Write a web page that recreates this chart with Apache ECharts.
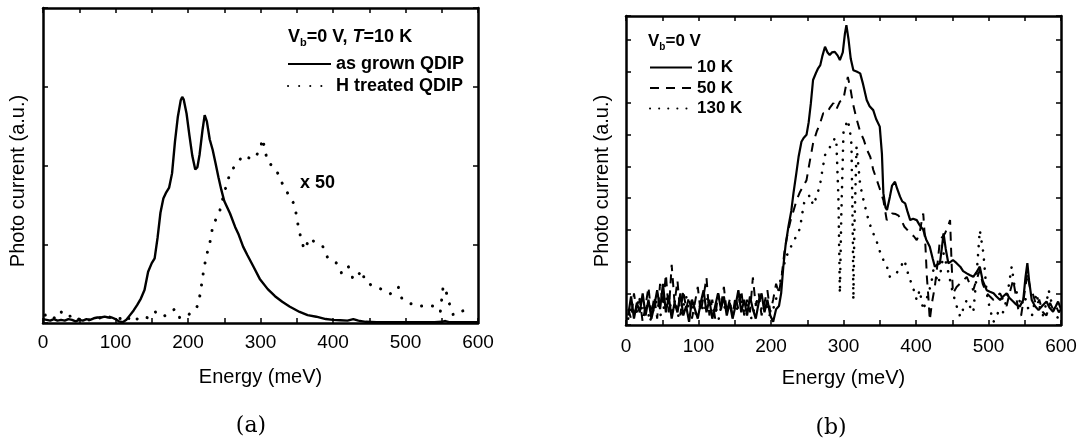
<!DOCTYPE html>
<html>
<head>
<meta charset="utf-8">
<script src="https://cdn.jsdelivr.net/npm/echarts@6/dist/echarts.min.js"></script>
<style>
html,body{margin:0;padding:0;background:#fff;}
#chart{width:1080px;height:438px;}
</style>
</head>
<body>
<div id="chart"></div>
<script>
// ---- Panel (a): T = 10 K, Vb = 0 V ----
const asGrown = [[0,0.05],[5,0.04],[10,0.03],[15,0.05],[20,0.03],[25,0.04],[30,0.03],[35,0.05],[40,0.04],[45,0.02],[50,0.04],[55,0.03],[60,0.05],[65,0.04],[70,0.06],[75,0.07],[80,0.07],[85,0.08],[90,0.07],[95,0.07],[100,0.05],[105,0.02],[110,0.01],[115,0.04],[120,0.1],[125,0.16],[130,0.23],[135,0.31],[140,0.42],[145,0.65],[150,0.76],[154,0.82],[158,1.08],[162,1.4],[166,1.58],[170,1.66],[174,1.72],[178,1.9],[182,2.3],[186,2.62],[190,2.83],[192,2.87],[194,2.84],[198,2.66],[202,2.38],[206,2.12],[210,1.95],[213,1.98],[216,2.14],[220,2.45],[223,2.64],[226,2.56],[230,2.33],[234,2.2],[238,2.03],[242,1.85],[246,1.69],[250,1.55],[258,1.39],[265,1.22],[270,1.12],[276,0.97],[282,0.86],[290,0.72],[299,0.56],[310,0.43],[320,0.34],[330,0.27],[340,0.21],[354,0.14],[365,0.1],[377,0.08],[390,0.05],[400,0.04],[410,0.035],[420,0.03],[428,0.05],[435,0.03],[445,0.015],[460,0.01],[480,0.01],[500,0.01],[520,0.01],[540,0.01],[550,0.015],[555,0.025],[560,0.01],[570,0.01],[585,0.01],[600,0.01]];
const hTreated = [[3,0.1],[10,0.12],[17,0.05],[25,0.14],[33,0.07],[41,0.1],[47,0.04],[52,0.06],[60,0.03],[68,0.05],[77,0.06],[88,0.1],[98,0.04],[108,0.06],[115,0.02],[122,0.1],[130,0.05],[138,0.09],[146,0.06],[155,0.14],[163,0.08],[171,0.1],[177,0.14],[182,0.18],[189,0.06],[196,0.08],[203,0.12],[209,0.16],[214,0.23],[217,0.38],[221,0.63],[225,0.84],[230,1.01],[234,1.22],[239,1.33],[244,1.43],[248,1.58],[253,1.75],[258,1.9],[262,1.96],[267,2.02],[272,2.08],[276,2.13],[283,2.1],[290,2.08],[295,2.14],[299,2.19],[303,2.34],[306,2.2],[310,2.04],[316,2.0],[322,1.94],[329,1.79],[338,1.64],[347,1.5],[353,1.18],[358,1.0],[361,0.93],[365,1.02],[368,1.08],[373,1.04],[377,1.01],[386,0.97],[393,0.82],[400,0.79],[405,0.76],[412,0.63],[417,0.68],[421,0.72],[428,0.55],[433,0.59],[440,0.67],[444,0.53],[453,0.48],[460,0.45],[467,0.43],[473,0.4],[479,0.37],[485,0.42],[490,0.46],[495,0.31],[500,0.28],[506,0.25],[512,0.23],[518,0.21],[524,0.22],[529,0.23],[535,0.22],[541,0.21],[548,0.14],[552,0.47],[557,0.37],[561,0.23],[566,0.1],[571,0.12],[575,0.14],[581,0.16],[587,0.18],[593,0.2]];

// ---- Panel (b): Vb = 0 V, three temperatures ----
const k10 = [[3,0.3],[7,0.9],[11,0.2],[15,0.7],[19,0.4],[23,1.0],[27,0.3],[31,0.8],[35,0.2],[39,0.6],[43,1.1],[47,0.5],[51,1.3],[55,0.4],[59,0.9],[63,0.2],[67,0.7],[71,0.4],[75,1.0],[79,0.3],[83,0.6],[87,0.1],[91,0.8],[95,0.5],[99,0.2],[103,0.7],[107,1.1],[111,0.4],[115,0.8],[119,0.2],[123,0.6],[127,1.0],[131,0.5],[135,0.9],[139,0.3],[143,0.7],[147,0.2],[151,0.6],[155,1.1],[159,0.4],[163,0.8],[167,0.3],[171,0.9],[175,0.5],[179,0.2],[183,0.7],[187,1.0],[191,0.4],[195,0.8],[199,0.3],[203,0.1],[207,0.5],[211,0.6],[214,1.0],[217,1.84],[220,2.5],[224,3.1],[228,3.6],[231,4.16],[235,4.8],[238,5.3],[242,5.78],[245,5.9],[249,6.0],[252,6.4],[255,7.0],[258,7.73],[262,7.95],[265,8.1],[268,8.2],[271,8.5],[274.5,8.78],[278,8.6],[281,8.52],[284,8.6],[288,8.62],[292,8.5],[295,8.36],[299,8.6],[302,9.2],[304,9.46],[307,9.0],[310,8.4],[313.6,8.04],[318,8.0],[323,7.94],[327,7.6],[332,7.1],[336,6.9],[341,6.78],[345,6.5],[350,6.26],[353,5.4],[355,4.16],[358,3.7],[360,3.63],[364,4.05],[367,4.4],[371,4.52],[374,4.3],[378,4.05],[381,3.9],[385,3.84],[388,3.6],[392,3.31],[396,3.35],[401,3.31],[405,3.15],[410,3.0],[414,2.7],[419,2.47],[423,2.1],[426,1.84],[429,1.9],[433,1.95],[436,2.5],[438,2.89],[441,2.4],[444.6,1.95],[448,2.0],[451,2.05],[456,1.95],[461,1.84],[465,1.7],[470,1.63],[474,1.58],[479,1.52],[483,1.65],[488,1.84],[492,1.4],[497.5,1.1],[502,1.05],[507,1.0],[511,0.9],[516,0.79],[520,0.9],[525,1.0],[529,0.85],[534,0.74],[538,0.65],[543,0.58],[548,0.8],[551,1.5],[553.6,1.95],[556,1.4],[559.6,0.79],[564,0.6],[569,0.47],[574,0.6],[580,0.74],[584,0.55],[589,0.42],[593,0.6],[596,0.74],[600,0.5]];
const k50 = [[3,0.5],[7,0.2],[11,1.0],[15,0.4],[19,0.8],[23,0.1],[27,0.6],[31,1.2],[35,0.3],[39,0.9],[43,0.2],[47,1.3],[51,0.6],[55,1.6],[59,0.4],[63,1.9],[67,0.7],[71,1.4],[75,0.3],[79,1.1],[83,0.5],[87,0.9],[91,0.2],[95,0.7],[99,1.2],[103,0.4],[107,0.9],[111,1.5],[115,0.3],[119,0.8],[123,0.2],[127,1.0],[131,0.6],[135,1.2],[139,0.4],[143,0.8],[147,0.3],[151,0.9],[155,0.5],[159,1.1],[163,0.3],[167,0.8],[171,0.4],[175,1.5],[179,0.6],[183,1.0],[187,0.3],[191,0.7],[195,1.1],[199,0.4],[203,0.8],[207,1.3],[211,1.0],[215,1.6],[219,2.4],[223,2.9],[227,3.3],[231,3.6],[235.4,3.94],[240,4.2],[245,4.4],[249,4.57],[253,5.1],[258,5.73],[263,6.1],[267.6,6.36],[272,6.68],[277,6.68],[281,6.85],[286,7.0],[290,6.8],[295,7.05],[299.7,7.1],[303,7.5],[306,7.83],[310,7.4],[313,6.99],[318,6.5],[323,6.1],[328,5.84],[332,5.55],[337,5.3],[341,4.9],[346,4.57],[350,4.3],[355,3.94],[359.6,3.31],[363,3.4],[367,3.52],[372,3.5],[376,3.45],[380,3.3],[384,3.1],[388,3.0],[392,2.89],[397,2.8],[401,2.68],[405,2.9],[408,3.3],[410,3.52],[413,2.5],[415,1.52],[417,0.9],[419,0.15],[422,0.7],[426,1.21],[430,2.0],[433,2.68],[437,2.8],[440,2.89],[444,3.1],[447,3.31],[449,2.0],[451,1.0],[456,1.2],[461,1.31],[465,1.4],[470,1.52],[474,1.3],[479,1.1],[483,1.4],[488,1.73],[492,1.3],[497.5,1.0],[502,0.9],[507,0.79],[511,0.9],[516,1.0],[520,0.8],[525,0.6],[529,1.0],[534,1.42],[538,0.9],[542,0.37],[545,0.3],[549,0.9],[553.6,1.63],[557,1.2],[561,1.0],[566,0.6],[570,0.8],[575,0.4],[580,0.3],[585,0.7],[589,0.5],[593,0.6],[597,0.4],[600,0.5]];
const k130 = [[3,0.2],[8,0.6],[13,0.3],[18,0.9],[23,0.4],[28,0.7],[33,0.1],[38,0.5],[43,0.8],[48,0.3],[53,0.6],[58,1.0],[63,0.4],[68,0.8],[73,0.2],[78,0.5],[83,0.9],[88,0.3],[93,0.6],[98,0.2],[103,0.7],[108,0.4],[113,0.9],[118,0.3],[123,0.6],[128,0.2],[133,0.8],[138,0.4],[143,0.7],[148,0.3],[153,0.5],[158,0.9],[163,0.4],[168,0.7],[173,0.2],[178,0.6],[183,0.9],[188,0.4],[193,0.7],[198,0.3],[203,0.5],[208,0.9],[212,1.3],[217,1.84],[222,2.2],[226,2.4],[231,2.63],[236,2.85],[240,3.05],[243,3.5],[246,3.89],[250,4.0],[253.7,4.1],[258,3.78],[262,4.0],[267.6,4.42],[271,4.9],[274.5,5.36],[277,5.4],[281,5.6],[286,5.84],[290,5.9],[293,4.0],[295,1.0],[297,3.5],[300,6.1],[303,6.3],[306,6.47],[309,6.1],[311,5.7],[313,2.5],[313.6,0.79],[315,3.0],[318,5.63],[323,4.42],[327,4.0],[332,3.52],[336,3.2],[341,2.89],[345,2.7],[348,2.47],[352,2.2],[355,2.05],[360,1.84],[364,1.52],[368,1.55],[373,1.63],[378,1.8],[384,2.05],[388,1.7],[392,1.42],[397,1.1],[401,0.79],[405,1.1],[410,0.47],[413,0.7],[417,1.0],[421,1.3],[424,1.73],[428,1.5],[431,1.31],[435,1.8],[438,2.26],[442,1.9],[445,1.63],[448,1.3],[451,1.0],[456,0.6],[461,0.26],[465,0.5],[470,0.79],[474,0.6],[479,0.4],[483,1.4],[488,2.99],[493,2.26],[497.5,1.0],[502,0.5],[507,0.1],[511,0.3],[516,0.5],[520,0.4],[525,0.8],[532,1.84],[536,1.2],[541,0.9],[545,0.6],[550,0.9],[555,0.5],[560,0.3],[566,1.0],[570,0.6],[575,0.3],[580,0.7],[583,1.1],[588,0.6],[592,0.4],[596,0.2],[600,0.3]];

const seriesNamesA = ['as grown QDIP', 'H treated QDIP'];
const seriesNamesB = ['10 K', '50 K', '130 K'];
const xTitle = 'Energy (meV)';
const yTitle = 'Photo current (a.u.)';

const FONT = 'Liberation Sans, Arial, Helvetica, sans-serif';
const chart = echarts.init(document.getElementById('chart'), null, {renderer: 'canvas'});

function xAxes(grid) {
  const line = {show: true, onZero: false, lineStyle: {color: '#000', width: 2.5}};
  const tick = {show: true, inside: true, length: 5, lineStyle: {color: '#000', width: 1.5}};
  return [
    {gridIndex: grid, type: 'value', min: 0, max: 600, interval: 50, position: 'bottom',
     axisLine: line, axisTick: tick, splitLine: {show: false},
     axisLabel: {color: '#000', fontSize: 19, fontFamily: FONT, margin: grid === 0 ? 10 : 12,
       formatter: v => (v % 100 === 0 ? String(v) : '')},
     name: xTitle, nameLocation: 'middle', nameGap: grid === 0 ? 44 : 43,
     nameTextStyle: {color: '#000', fontSize: 20, fontFamily: FONT}},
    {gridIndex: grid, type: 'value', min: 0, max: 600, interval: 50, position: 'top',
     axisLine: line, axisTick: tick, splitLine: {show: false}, axisLabel: {show: false}}
  ];
}
function yAxes(grid, max) {
  const line = {show: true, onZero: false, lineStyle: {color: '#000', width: 2.5}};
  const tick = {show: true, inside: true, length: 5, lineStyle: {color: '#000', width: 1.5}};
  return [
    {gridIndex: grid, type: 'value', min: 0, max: max, interval: 1, position: 'left',
     axisLine: line, axisTick: tick, axisLabel: {show: false}, splitLine: {show: false}},
    {gridIndex: grid, type: 'value', min: 0, max: max, interval: 1, position: 'right',
     axisLine: line, axisTick: tick, axisLabel: {show: false}, splitLine: {show: false}}
  ];
}

function lineSeries(name, data, xi, yi, style) {
  return {name, type: 'line', data, xAxisIndex: xi, yAxisIndex: yi,
    symbol: 'none', showSymbol: false, animation: false, clip: true,
    itemStyle: {color: 'rgba(0,0,0,0)', borderWidth: 0},
    lineStyle: Object.assign({color: '#000'}, style)};
}

const legendText = (size) => ({color: '#000', fontSize: size, fontWeight: 'bold', fontFamily: FONT});

const option = {
  backgroundColor: '#fff',
  animation: false,
  textStyle: {fontFamily: FONT},
  grid: [
    {left: 43, top: 8, width: 435, height: 315},
    {left: 626, top: 16, width: 435, height: 309}
  ],
  xAxis: [...xAxes(0), ...xAxes(1)],
  yAxis: [...yAxes(0, 4), ...yAxes(1, 9.75)],
  title: [
    {text: '{v|V}{s|b}{v|=0 V, }{i|T}{v|=10 K}', left: 288, top: 26, padding: 0,
     textStyle: {rich: {
       v: {fontSize: 18, fontWeight: 'bold', color: '#000', fontFamily: FONT, lineHeight: 22},
       i: {fontSize: 18, fontWeight: 'bold', fontStyle: 'italic', color: '#000', fontFamily: FONT, lineHeight: 22},
       s: {fontSize: 11, fontWeight: 'bold', color: '#000', fontFamily: FONT, lineHeight: 11, verticalAlign: 'bottom'}
     }}},
    {text: '{v|V}{s|b}{v|=0 V}', left: 648, top: 31, padding: 0,
     textStyle: {rich: {
       v: {fontSize: 17, fontWeight: 'bold', color: '#000', fontFamily: FONT, lineHeight: 21},
       s: {fontSize: 10, fontWeight: 'bold', color: '#000', fontFamily: FONT, lineHeight: 10, verticalAlign: 'bottom'}
     }}}
  ],
  legend: [
    {data: seriesNamesA, orient: 'vertical', left: 287, top: 55, padding: 0,
     itemWidth: 43, itemHeight: 14, itemGap: 4, selectedMode: false,
     itemStyle: {opacity: 0},
     textStyle: legendText(18)},
    {data: seriesNamesB, orient: 'vertical', left: 649, top: 59, padding: 0,
     itemWidth: 42, itemHeight: 14, itemGap: 3.5, selectedMode: false,
     itemStyle: {opacity: 0},
     textStyle: legendText(17)}
  ],
  series: [
    lineSeries(seriesNamesA[0], asGrown, 0, 0, {width: 2.4}),
    lineSeries(seriesNamesA[1], hTreated, 0, 0, {width: 3, type: [0.1, 11], cap: 'round'}),
    lineSeries(seriesNamesB[0], k10, 2, 2, {width: 2.2}),
    lineSeries(seriesNamesB[1], k50, 2, 2, {width: 2, type: [9, 7]}),
    lineSeries(seriesNamesB[2], k130, 2, 2, {width: 2.6, type: [0.1, 9], cap: 'round'})
  ],
  graphic: [
    {type: 'text', x: 18, y: 181, rotation: Math.PI / 2,
     style: {text: yTitle, fill: '#000', fontSize: 20, fontFamily: FONT,
       align: 'center', verticalAlign: 'middle', textAlign: 'center', textVerticalAlign: 'middle'}},
    {type: 'text', x: 602, y: 181, rotation: Math.PI / 2,
     style: {text: yTitle, fill: '#000', fontSize: 20, fontFamily: FONT,
       align: 'center', verticalAlign: 'middle', textAlign: 'center', textVerticalAlign: 'middle'}},
    {type: 'text', x: 300, y: 183,
     style: {text: 'x 50', fill: '#000', fontSize: 18, fontWeight: 'bold', fontFamily: FONT,
       align: 'left', verticalAlign: 'middle', textAlign: 'left', textVerticalAlign: 'middle'}},
    {type: 'text', x: 251, y: 426,
     style: {text: '(a)', fill: '#000', fontSize: 22, fontFamily: 'DejaVu Serif, serif',
       align: 'center', verticalAlign: 'middle', textAlign: 'center', textVerticalAlign: 'middle'}},
    {type: 'text', x: 831, y: 428,
     style: {text: '(b)', fill: '#000', fontSize: 22, fontFamily: 'DejaVu Serif, serif',
       align: 'center', verticalAlign: 'middle', textAlign: 'center', textVerticalAlign: 'middle'}}
  ]
};
chart.setOption(option);
</script>
</body>
</html>
